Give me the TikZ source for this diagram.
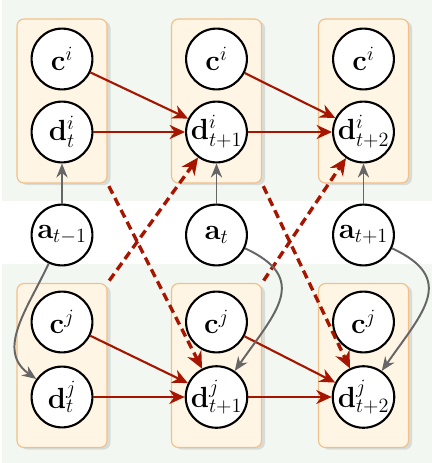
\documentclass[tikz,border=0pt]{standalone}
\usepackage{tikz}
\usetikzlibrary{arrows.meta,shadows}
\definecolor{BGGreen}{HTML}{F2F7F1}
\definecolor{BoxFill}{HTML}{FFF5E4}
\definecolor{BoxLine}{HTML}{F2BF88}
\definecolor{EdgeRed}{HTML}{A51500}
\definecolor{EdgeGray}{HTML}{666666}

\tikzset{
  var/.style={circle,draw=black,line width=1.5pt,fill=white,minimum size=1.52cm,inner sep=0pt,font=\fontsize{22}{26}\selectfont},
  agent/.style={rounded corners=5pt,draw=BoxLine,fill=BoxFill,line width=0.8pt,minimum width=2.25cm,minimum height=4.1cm,
    drop shadow={opacity=0.22,shadow xshift=2.5pt,shadow yshift=-1.5pt}},
  redarr/.style={EdgeRed,line width=1.5pt,-{Stealth[length=11pt,width=10pt]}},
  dasharr/.style={EdgeRed,line width=2.4pt,dash pattern=on 6pt off 3.5pt,shorten <=2pt,-{Stealth[length=12pt,width=11pt]}},
  grayarr/.style={EdgeGray,line width=1.4pt,-{Stealth[length=10pt,width=8pt]}}
}

\begin{document}
\begin{tikzpicture}[x=0.025cm,y=-0.025cm]
\path[use as bounding box] (0,0) rectangle (432,463);
\fill[BGGreen] (2,0) rectangle (432,201);
\fill[BGGreen] (2,264) rectangle (432,463);
% agent boxes
\node[agent] (bi1) at (62,101) {};
\node[agent] (bi2) at (216.5,101) {};
\node[agent] (bi3) at (363.5,101) {};
\node[agent] (bj1) at (62,365.5) {};
\node[agent] (bj2) at (216.5,365.5) {};
\node[agent] (bj3) at (363.5,365.5) {};
% agent i
\node[var] (ci1) at (62,59) {$\mathbf{c}^i$};
\node[var] (ci2) at (216.5,59) {$\mathbf{c}^i$};
\node[var] (ci3) at (363.5,59) {$\mathbf{c}^i$};
\node[var] (di1) at (62,132) {$\mathbf{d}^i_t$};
\node[var] (di2) at (216.5,132) {$\mathbf{d}^i_{t+1}$};
\node[var] (di3) at (363.5,132) {$\mathbf{d}^i_{t+2}$};
% actions
\node[var] (a1) at (62,235) {$\mathbf{a}_{t-1}$};
\node[var] (a2) at (216.5,235) {$\mathbf{a}_t$};
\node[var] (a3) at (363.5,235) {$\mathbf{a}_{t+1}$};
% agent j
\node[var] (cj1) at (62,322) {$\mathbf{c}^j$};
\node[var] (cj2) at (216.5,322) {$\mathbf{c}^j$};
\node[var] (cj3) at (363.5,322) {$\mathbf{c}^j$};
\node[var] (dj1) at (62,397) {$\mathbf{d}^j_t$};
\node[var] (dj2) at (216.5,397) {$\mathbf{d}^j_{t+1}$};
\node[var] (dj3) at (363.5,397) {$\mathbf{d}^j_{t+2}$};
% transitions
\draw[redarr] (ci1) -- (di2);
\draw[redarr] (ci2) -- (di3);
\draw[redarr] (di1) -- (di2);
\draw[redarr] (di2) -- (di3);
\draw[redarr] (cj1) -- (dj2);
\draw[redarr] (cj2) -- (dj3);
\draw[redarr] (dj1) -- (dj2);
\draw[redarr] (dj2) -- (dj3);
% cross-agent influence
\draw[dasharr] (bi1.south east) -- (dj2);
\draw[dasharr] (bj1.north east) -- (di2);
\draw[dasharr] (bi2.south east) -- (dj3);
\draw[dasharr] (bj2.north east) -- (di3);
% actions
\draw[grayarr] (a1) -- (di1);
\draw[grayarr] (a2) -- (di2);
\draw[grayarr] (a3) -- (di3);
\draw[grayarr] (a1) to[out=-115,in=145,looseness=1.1] (dj1);
\draw[grayarr] (a2) to[out=-25,in=55,looseness=1.5] (dj2);
\draw[grayarr] (a3) to[out=-25,in=55,looseness=1.5] (dj3);
\end{tikzpicture}
\end{document}
